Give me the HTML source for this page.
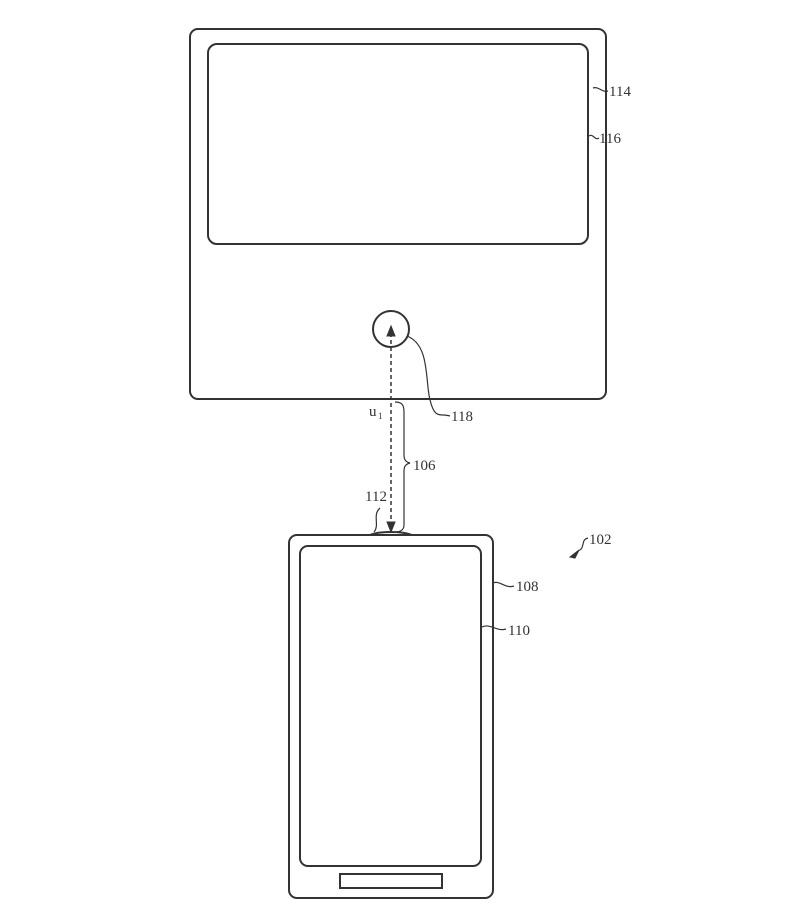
<!DOCTYPE html>
<html><head><style>body{margin:0;background:#fff}</style></head><body>
<svg width="799" height="912" xmlns="http://www.w3.org/2000/svg" font-family="Liberation Serif, serif" font-size="15" fill="none" stroke="#333" stroke-width="2">
<rect x="190" y="29" width="416" height="370" rx="8"/>
<rect x="208" y="44" width="380" height="200" rx="9"/>
<circle cx="391" cy="329" r="18"/>
<line x1="391" y1="333" x2="391" y2="530" stroke-dasharray="4,3" stroke-width="1.5"/>
<path d="M387 336 L391 326 L395 336 Z" fill="#333" stroke-width="1"/>
<path d="M387 522 L391 532 L395 522 Z" fill="#333" stroke-width="1"/>
<path d="M407 336 C430 345 425 380 430 400 C435 420 440 413 450 416" stroke-width="1.2"/>
<path d="M395 402 C402 402 404 405 404 412 L404 455 C404 460 406 462 410 463 C406 464 404 466 404 471 L404 525 C404 530 400 532 395 532" stroke-width="1.2"/>
<path d="M380 508 C372 515 380 525 374 532" stroke-width="1.2"/>
<path d="M370 535 C380 531 402 531 412 535" stroke-width="2"/>
<rect x="289" y="535" width="204" height="363" rx="8"/>
<rect x="300" y="546" width="181" height="320" rx="8"/>
<rect x="340" y="874" width="102" height="14"/>
<path d="M593 88 C599 86 602 93 608 91" stroke-width="1.2"/>
<path d="M589 136 C593 133 595 141 599 138" stroke-width="1.2"/>
<path d="M493 583 C500 580 505 589 514 586" stroke-width="1.2"/>
<path d="M482 627 C490 623 497 632 506 629" stroke-width="1.2"/>
<path d="M588 538 C580 540 586 548 578 551" stroke-width="1.2"/>
<path d="M570 557 L579 550 L575 558 Z" fill="#333" stroke-width="1"/>
<g fill="#333" stroke="none">
<text x="609" y="96">114</text>
<text x="599" y="143">116</text>
<text x="451" y="421">118</text>
<text x="369" y="416">u</text><text x="378" y="419" font-size="9">1</text>
<text x="413" y="470">106</text>
<text x="365" y="501">112</text>
<text x="589" y="544">102</text>
<text x="516" y="591">108</text>
<text x="508" y="635">110</text>
</g>
</svg>
</body></html>
